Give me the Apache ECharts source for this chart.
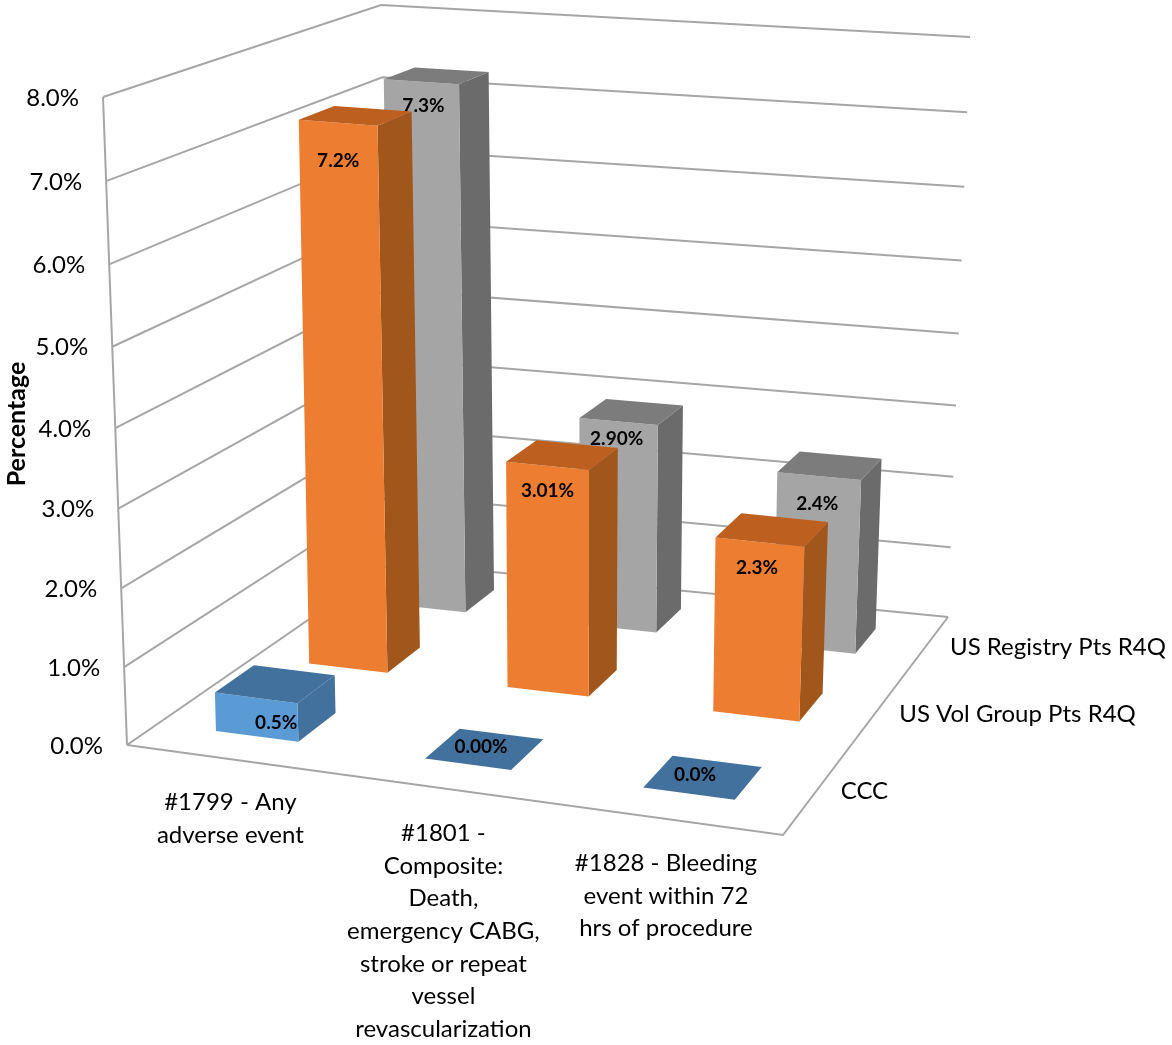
<!DOCTYPE html>
<html><head><meta charset="utf-8">
<style>html,body{margin:0;padding:0;background:#fff}#c{width:1172px;height:1045px}</style>
<script src="https://cdn.jsdelivr.net/npm/echarts@6/dist/echarts.min.js"></script>
</head><body><div id="c"></div>
<script>
// ---------- data ----------
const categories = ["#1799 - Any\nadverse event",
  "#1801 -\nComposite:\nDeath,\nemergency CABG,\nstroke or repeat\nvessel\nrevascularization",
  "#1828 - Bleeding\nevent within 72\nhrs of procedure"];
const seriesNames = ["CCC", "US Vol Group Pts R4Q", "US Registry Pts R4Q"];
const cccValues = [0.5, 0.0, 0.0];
const volValues = [7.2, 3.01, 2.3];
const regValues = [7.3, 2.9, 2.4];
const cccLabels = ["0.5%", "0.00%", "0.0%"];
const volLabels = ["7.2%", "3.01%", "2.3%"];
const regLabels = ["7.3%", "2.90%", "2.4%"];
const yTicks = [0, 1, 2, 3, 4, 5, 6, 7, 8];
const yTickLabels = ["0.0%", "1.0%", "2.0%", "3.0%", "4.0%", "5.0%", "6.0%", "7.0%", "8.0%"];

// ---------- perspective layout (box corners on the page) ----------
const FONT = 'Lato, "Noto Sans", sans-serif';
const floorQuad = [[127,745],[783,835],[948,617],[392,562]];
const topQuad   = [[103,97],[799,159],[970,37],[381,5]];
const PERSP = 1.045, BAR_HD = 0.2;
const barHalfWidth = [0.207, 0.2, 0.198];
const barUShift = [0.003, 0.023, 0.015];
const barTopShift = [0.03, 0.046, 0.028];
const labelNudge = [
  [[20,25],[13,-17],[6,-19]],
  [[0,38],[0,25],[-3,26]],
  [[2,24],[-2,17],[-2,28]]
];
const catLabelNudge = [[4,44],[7,46],[3,45]];
const GRID_COLOR = '#a6a6a6';
const palette = [
  {front:'#5b9bd5', side:'#41719c', top:'#41719c'},
  {front:'#ed7d31', side:'#a1561c', top:'#bd5f1f'},
  {front:'#a5a5a5', side:'#6b6b6b', top:'#7c7c7c'}
];

function quadMap(q){
  const [[x0,y0],[x1,y1],[x2,y2],[x3,y3]] = q;
  const dx1=x1-x2, dx2=x3-x2, sx=x0-x1+x2-x3, dy1=y1-y2, dy2=y3-y2, sy=y0-y1+y2-y3;
  const den=dx1*dy2-dx2*dy1;
  const g=(sx*dy2-dx2*sy)/den, h=(dx1*sy-sx*dy1)/den;
  const a=x1-x0+g*x1, b=x3-x0+h*x3, d=y1-y0+g*y1, e=y3-y0+h*y3;
  return (s,t)=>{const w=g*s+h*t+1; return [(a*s+b*t+x0)/w,(d*s+e*t+y0)/w];};
}
const floorMap = quadMap(floorQuad), topMap = quadMap(topQuad);
// u: 0..3 along categories, v: 0..3 into depth, t: 0..1 of the value axis
function project(u,v,t){
  const f=floorMap(u/3,v/3), p=topMap(u/3,v/3);
  const k=t/(t+(1-t)*PERSP);
  return [f[0]+(p[0]-f[0])*k, f[1]+(p[1]-f[1])*k];
}
function axisT(api,val){
  const y0=api.coord([0,yTicks[0]])[1], y1=api.coord([0,yTicks[yTicks.length-1]])[1];
  return (y0-api.coord([0,val])[1])/(y0-y1);
}
function poly(points,fill){return {type:'polygon',shape:{points},style:{fill,stroke:null}};}
function line(points,w){return {type:'polyline',shape:{points},style:{stroke:GRID_COLOR,lineWidth:w||2,fill:null}};}
function text(str,x,y,size,opt){
  return {type:'text',style:Object.assign({text:str,x,y,fill:'#000',fontSize:size,fontFamily:FONT,align:'center',verticalAlign:'middle'},opt||{})};
}

function renderWalls(params,api){
  const val=api.value(1), t=axisT(api,val), i=params.dataIndex;
  const children=[
    line([project(0,0,t),project(0,3,t),project(3,3,t)])
  ];
  const p=project(0,0,t);
  children.push(text(yTickLabels[i],p[0]-24,p[1]+1,24,{align:'right'}));
  if(i===0){
    children.push(line([project(0,0,0),project(0,0,1)]));
    children.push(line([project(0,0,0),project(3,0,0),project(3,3,0)]));
  }
  return {type:'group',children};
}
function makeBarRenderer(depth,labels){
  return function(params,api){
    const cat=api.value(0), t=axisT(api,api.value(1));
    const c=palette[depth], uc=cat+.5+barUShift[cat], vc=depth+.5, hw=barHalfWidth[cat], ts=barTopShift[cat]*t;
    const u0=uc-hw,u1=uc+hw,v0=vc-BAR_HD,v1=vc+BAR_HD;
    const children=[];
    const FLt=project(u0+ts,v0,t),FRt=project(u1+ts,v0,t),BRt=project(u1+ts,v1,t),BLt=project(u0+ts,v1,t);
    if(t>0){
      const FLb=project(u0,v0,0),FRb=project(u1,v0,0),BRb=project(u1,v1,0);
      children.push(poly([FRb,BRb,BRt,FRt],c.side));
      children.push(poly([FLb,FRb,FRt,FLt],c.front));
    }
    children.push(poly([FLt,FRt,BRt,BLt],c.top));
    const n=labelNudge[depth][cat];
    children.push(text(labels[cat],(FLt[0]+FRt[0])/2+n[0],(FLt[1]+FRt[1])/2+n[1],19,{fontWeight:'bold'}));
    return {type:'group',children};
  };
}
function renderCategoryLabels(params,api){
  const cat=api.value(0), lines=categories[cat].split('\n'), n=catLabelNudge[cat];
  const p=project(cat+.5,0,0);
  return {type:'group',children:lines.map((s,k)=>text(s,p[0]+n[0],p[1]+n[1]+k*32.6,24))};
}
function renderDepthLabels(params,api){
  const d=params.dataIndex, p=project(3,d+.5,0);
  return text(seriesNames[d],p[0]+25,p[1],24,{align:'left'});
}

const base={type:'custom',silent:true,clip:false,animation:false};
const chart=echarts.init(document.getElementById('c'),null,{renderer:'canvas'});
chart.setOption({
  animation:false,
  backgroundColor:'#fff',
  tooltip:{show:false},
  grid:{left:0,right:0,top:0,bottom:0},
  xAxis:{type:'category',data:categories,show:false},
  yAxis:{type:'value',min:0,max:8,interval:1,show:false},
  graphic:[{type:'text',rotation:Math.PI/2,x:17,y:424,
    style:{text:'Percentage',fontSize:25,fontWeight:'bold',fontFamily:FONT,fill:'#000',align:'center',verticalAlign:'middle'}}],
  series:[
    Object.assign({},base,{name:'walls',z:1,renderItem:renderWalls,encode:{x:0,y:1},data:yTicks.map(v=>[0,v])}),
    Object.assign({},base,{name:seriesNames[2],z:2,renderItem:makeBarRenderer(2,regLabels),encode:{x:0,y:1},data:regValues.map((v,i)=>[i,v])}),
    Object.assign({},base,{name:seriesNames[1],z:3,renderItem:makeBarRenderer(1,volLabels),encode:{x:0,y:1},data:volValues.map((v,i)=>[i,v])}),
    Object.assign({},base,{name:seriesNames[0],z:4,renderItem:makeBarRenderer(0,cccLabels),encode:{x:0,y:1},data:cccValues.map((v,i)=>[i,v])}),
    Object.assign({},base,{name:'categoryLabels',z:5,renderItem:renderCategoryLabels,encode:{x:0,y:1},data:categories.map((c,i)=>[i,0])}),
    Object.assign({},base,{name:'depthLabels',z:5,renderItem:renderDepthLabels,encode:{x:0,y:1},data:seriesNames.map((c,i)=>[0,0])})
  ]
});
</script></body></html>
